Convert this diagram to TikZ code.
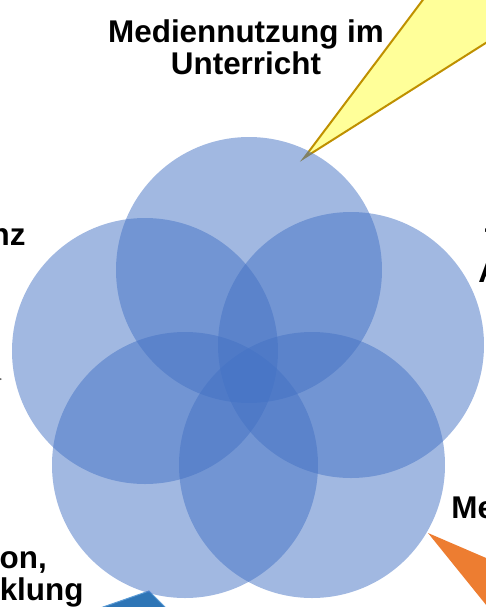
\documentclass[tikz,border=0pt]{standalone}
\usepackage{fontspec}
\setmainfont{Liberation Sans}
\usepackage{tikz}
\definecolor{kreisblau}{RGB}{68,114,196}
\definecolor{gelb}{RGB}{255,255,153}
\definecolor{gold}{RGB}{191,144,0}
\definecolor{orange}{RGB}{237,125,49}
\definecolor{blau}{RGB}{46,117,182}
\definecolor{hellblau}{RGB}{91,155,213}

\begin{document}
\begin{tikzpicture}
[x=0.5pt,y=-0.5pt,
kreis/.style={circle,fill=kreisblau,fill opacity=0.5,minimum size=133pt,inner sep=0pt},
beschriftung/.style={font=\bfseries\fontsize{15.7}{16}\selectfont,align=center,inner sep=0pt}]
\useasboundingbox (0,0) rectangle (486,607);
\clip (0,0) rectangle (486,607);

% Sprechblasen-Spitzen
\coordinate (spitzeoben) at (304,158);
\coordinate (spitzerechts) at (428,533);
\coordinate (spitzeunten) at (149,591);
\coordinate (spitzelinks) at (2,379);
\fill[gelb,draw=gold,line width=1pt] (spitzeoben) -- (498,-100) -- (650,-100) -- (650,-61) -- cycle;
\fill[orange] (spitzerechts) -- (600,607) -- (600,746) -- cycle;
\fill[blau,draw=hellblau,line width=0.5pt] (spitzeunten) -- (60,622) -- (180,622) -- cycle;
\fill[gray!70!black] (spitzelinks) -- (-20,370) -- (-20,390) -- cycle;

% Kreise
\node[kreis] (oben) at (249,270) {};
\node[kreis] (rechts) at (351,345) {};
\node[kreis] (links) at (145,351) {};
\node[kreis] (untenlinks) at (185,465) {};
\node[kreis] (untenrechts) at (312,465) {};

% Texte
\node[beschriftung,anchor=base] (unterricht) at (246,74) {Mediennutzung im\\Unterricht};
\node[beschriftung,anchor=base] (ausstattung) at (570,282) {Technische\\Ausstattung};
\node[beschriftung,anchor=base east] (kompetenz) at (26,245) {Medienkompetenz};
\node[beschriftung,anchor=base west] (erziehung) at (451,518) {Medienerziehung};
\node[beschriftung,anchor=base] (kooperation) at (-50,600) {Kooperation,\\Schulentwicklung};
\end{tikzpicture}
\end{document}
